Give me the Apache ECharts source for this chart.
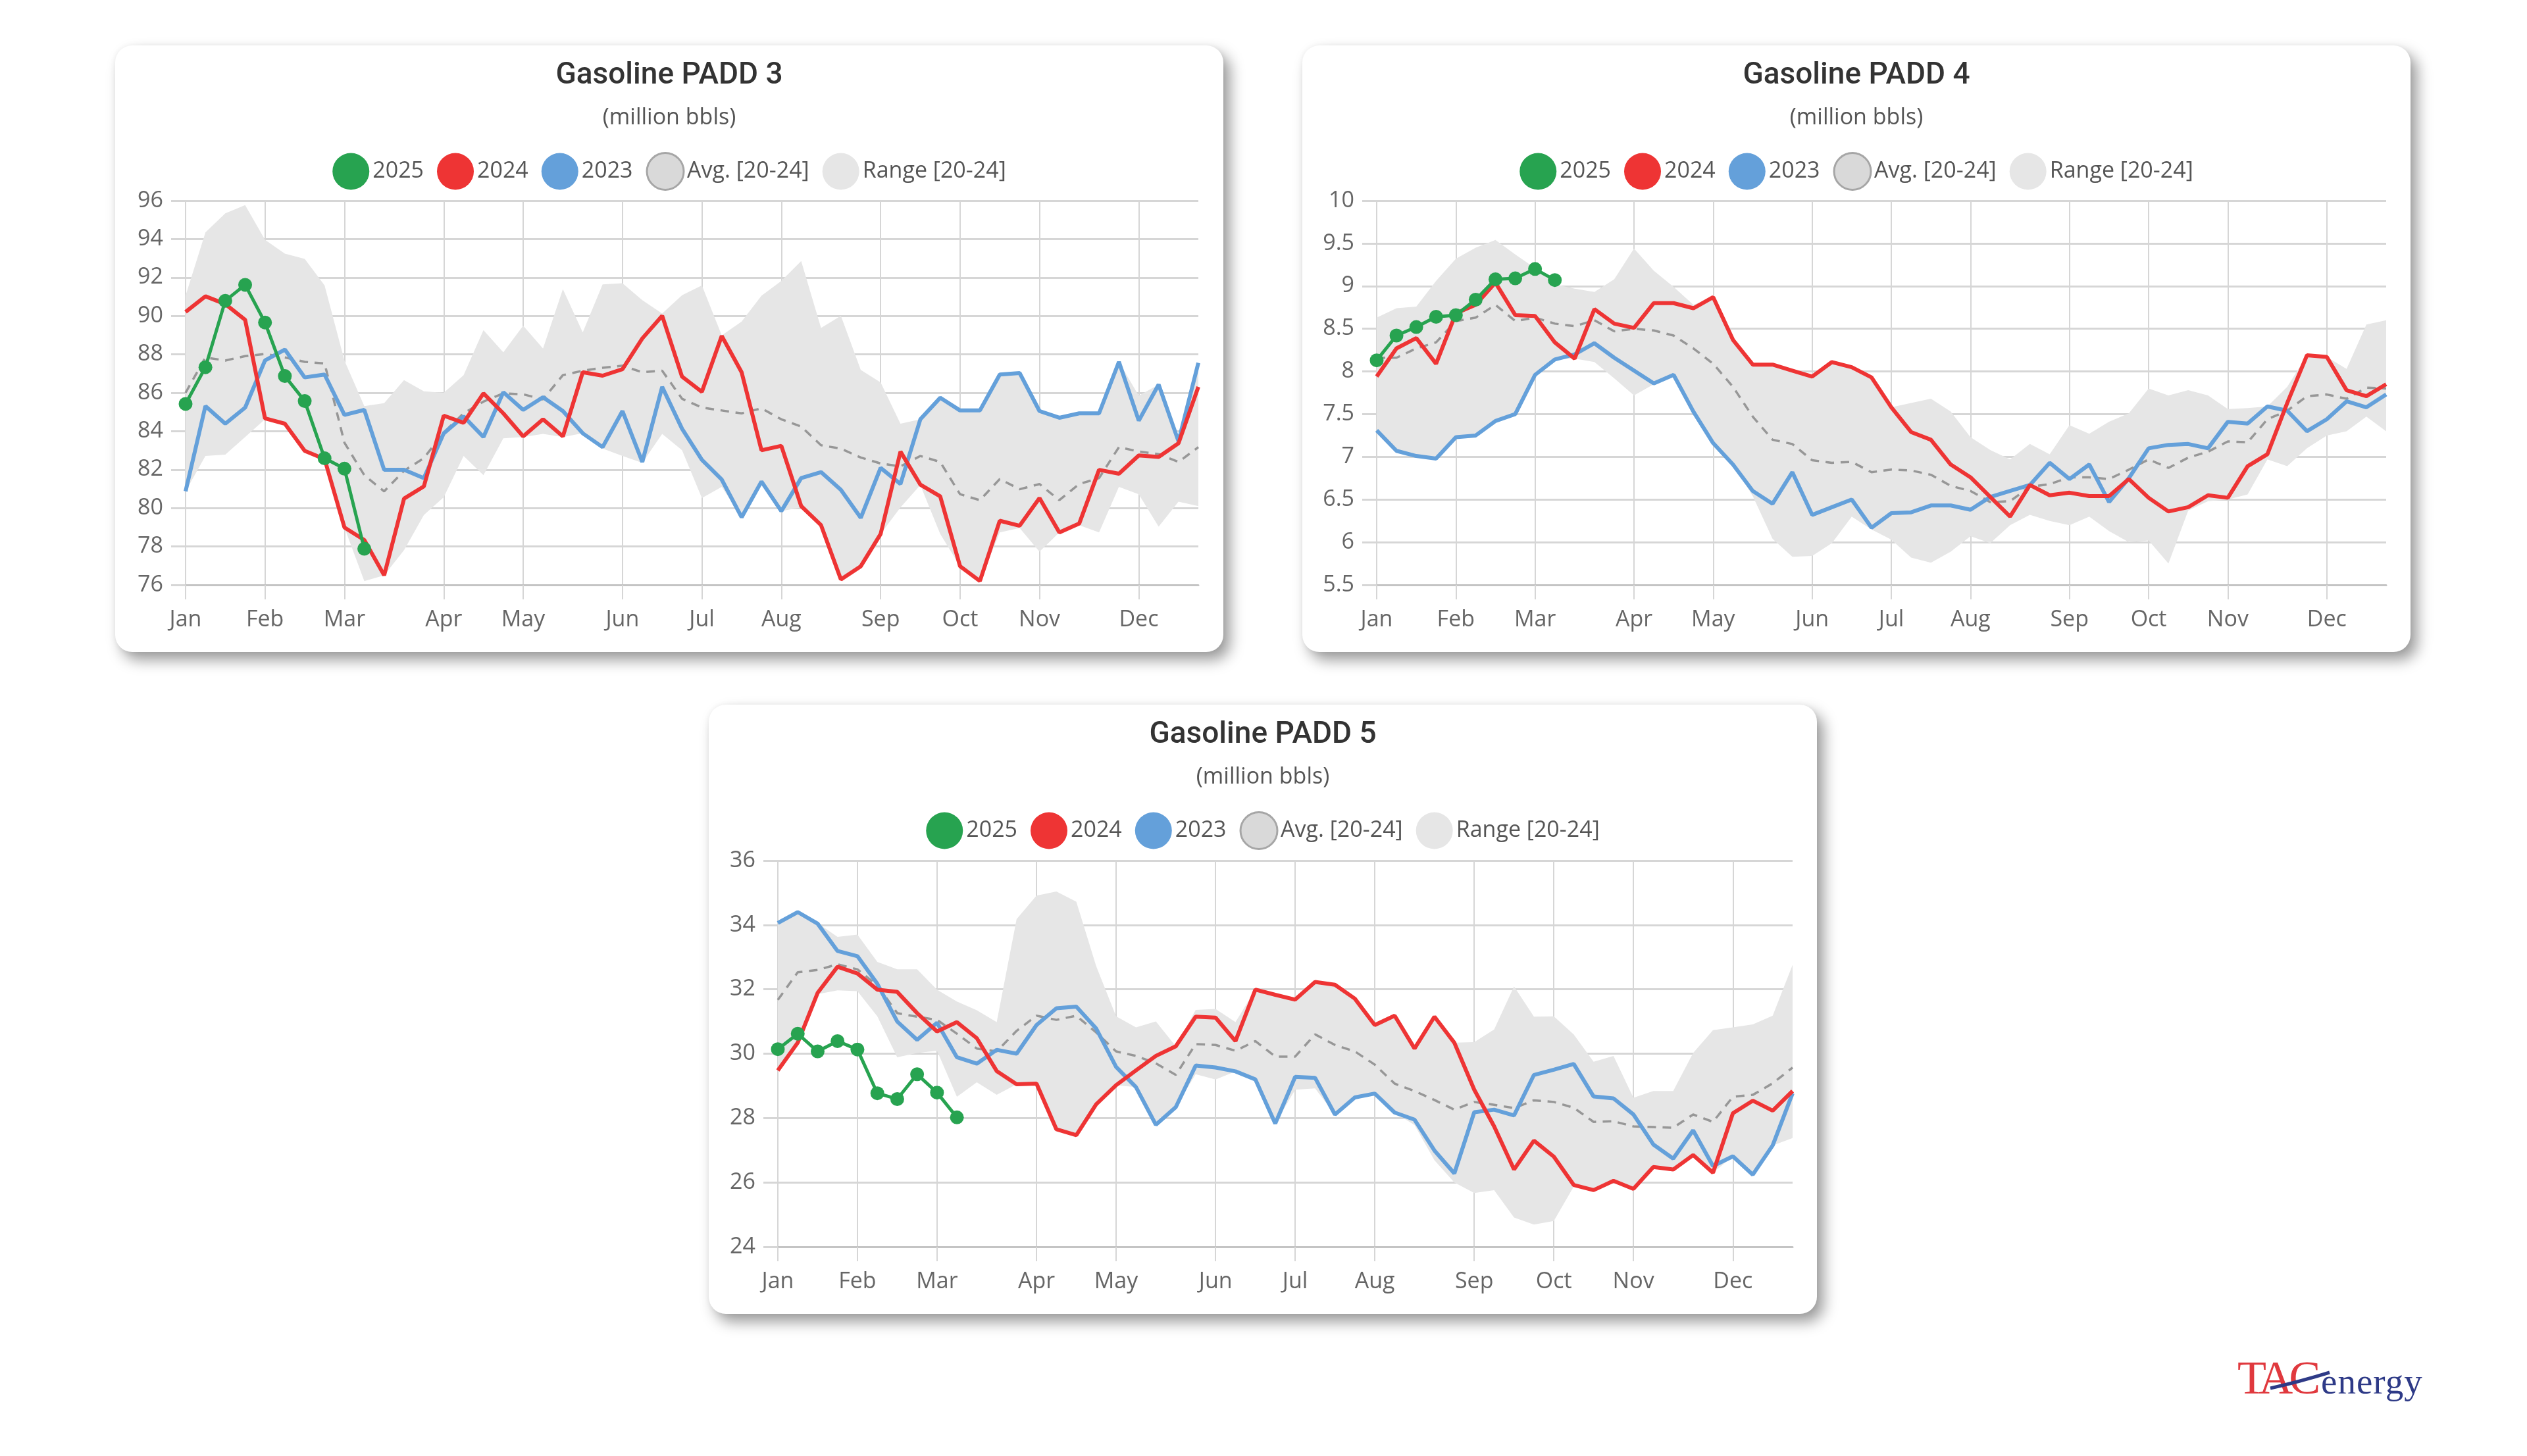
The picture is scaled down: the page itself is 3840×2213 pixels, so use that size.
<!DOCTYPE html>
<html>
<head>
<meta charset="utf-8">
<script src="https://cdn.jsdelivr.net/npm/echarts@6/dist/echarts.min.js"></script>
<style>
html,body{margin:0;padding:0;background:#fff;width:3840px;height:2213px;overflow:hidden;}
.card{position:absolute;background:#fff;border-radius:26px;box-shadow:10px 12px 22px rgba(0,0,0,0.40),0 0 8px rgba(0,0,0,0.05);}
.chart{position:absolute;left:0;top:0;width:100%;height:100%;}
#logo{position:absolute;left:3400px;top:2044px;width:320px;height:100px;font-family:"Liberation Serif",serif;white-space:nowrap;}
#logo .tac{color:#e0393e;font-size:72px;letter-spacing:-6px;position:absolute;left:0;top:0;line-height:100px;}
#logo .en{color:#2e3a87;font-size:55px;letter-spacing:1px;position:absolute;left:127px;top:6px;line-height:100px;}
#logo svg{position:absolute;left:0;top:0;}
</style>
</head>
<body>
<div class="card" style="left:175px;top:69px;width:1684px;height:922px"><div class="chart" id="ch1"></div></div>
<div class="card" style="left:1979px;top:69px;width:1684px;height:922px"><div class="chart" id="ch2"></div></div>
<div class="card" style="left:1077px;top:1071px;width:1684px;height:926px"><div class="chart" id="ch3"></div></div>
<div id="logo"><span class="tac">TAC</span><span class="en">energy</span>
<svg width="320" height="100"><path d="M50 66 Q95 56 140 42" stroke="#2e3a87" stroke-width="5" fill="none"/></svg></div>
<script>
// ---- categories (52 weekly points) ----
const weeks = ['W01','W02','W03','W04','W05','W06','W07','W08','W09','W10','W11','W12','W13',
 'W14','W15','W16','W17','W18','W19','W20','W21','W22','W23','W24','W25','W26',
 'W27','W28','W29','W30','W31','W32','W33','W34','W35','W36','W37','W38','W39',
 'W40','W41','W42','W43','W44','W45','W46','W47','W48','W49','W50','W51','W52'];
const monthNames = ['Jan','Feb','Mar','Apr','May','Jun','Jul','Aug','Sep','Oct','Nov','Dec'];
const monthWeeks = [0,4,8,13,17,22,26,30,35,39,43,48];

// ---- Gasoline PADD 3 ----
const p3_2025 = [85.42,87.33,90.79,91.62,89.66,86.87,85.57,82.59,82.05,77.88];
const p3_2024 = [90.21,91.02,90.62,89.80,84.67,84.39,82.98,82.55,78.99,78.34,76.50,80.49,81.13,84.81,84.44,85.97,84.93,83.73,84.62,83.73,87.07,86.89,87.23,88.83,90.01,86.84,86.05,88.96,87.07,83.01,83.24,80.10,79.11,76.28,76.97,78.65,82.94,81.22,80.61,76.97,76.20,79.34,79.08,80.52,78.73,79.19,81.99,81.79,82.74,82.66,83.37,86.31];
const p3_2023 = [80.87,85.31,84.39,85.23,87.68,88.25,86.80,86.95,84.85,85.11,81.99,81.99,81.56,83.89,84.77,83.70,86.03,85.11,85.77,85.05,83.89,83.17,85.05,82.40,86.31,84.13,82.51,81.48,79.52,81.38,79.84,81.56,81.87,80.95,79.49,82.09,81.25,84.62,85.74,85.08,85.08,86.95,87.03,85.05,84.70,84.93,84.93,87.61,84.55,86.43,83.47,87.56];
const p3_avg = [86.00,87.84,87.68,87.91,88.02,87.84,87.61,87.53,83.40,81.71,80.87,81.94,82.60,83.93,84.93,85.54,85.97,85.92,85.66,86.92,87.15,87.30,87.41,87.07,87.15,85.69,85.23,85.08,84.93,85.19,84.62,84.24,83.27,83.09,82.63,82.32,82.17,82.71,82.40,80.72,80.41,81.51,80.98,81.25,80.41,81.25,81.56,83.17,82.94,82.81,82.40,83.17];
const p3_max = [91.05,94.35,95.34,95.77,93.96,93.24,92.97,91.59,87.68,85.31,85.46,86.66,86.08,86.00,86.92,89.26,88.11,89.49,88.30,91.39,89.14,91.64,91.70,90.82,90.13,91.08,91.59,88.99,89.71,91.05,91.82,92.86,89.37,90.01,87.19,86.54,84.39,84.62,85.74,85.08,85.08,86.95,87.03,85.05,84.70,84.93,84.93,87.61,85.85,86.43,83.70,87.56];
const p3_min = [80.87,82.71,82.78,83.70,84.62,84.39,82.98,82.55,78.99,76.20,76.50,77.81,79.64,80.56,82.71,81.71,83.63,83.70,83.86,83.70,83.89,83.10,82.71,82.35,83.86,83.01,80.52,81.10,79.52,81.38,79.84,80.03,79.11,76.28,76.97,78.65,80.03,81.20,78.65,76.97,76.20,78.73,78.96,77.73,78.73,79.11,78.73,81.10,80.72,79.03,80.33,80.10];

// ---- Gasoline PADD 4 ----
const p4_2025 = [8.13,8.42,8.52,8.64,8.66,8.84,9.08,9.09,9.20,9.07];
const p4_2024 = [7.94,8.27,8.39,8.09,8.68,8.78,9.04,8.66,8.65,8.34,8.15,8.73,8.56,8.51,8.80,8.80,8.74,8.87,8.37,8.08,8.08,8.01,7.94,8.11,8.05,7.93,7.58,7.29,7.20,6.91,6.76,6.53,6.30,6.67,6.55,6.58,6.54,6.54,6.74,6.52,6.36,6.41,6.55,6.52,6.89,7.03,7.63,8.19,8.17,7.78,7.71,7.85];
const p4_2023 = [7.31,7.07,7.01,6.98,7.23,7.25,7.42,7.50,7.96,8.14,8.20,8.33,8.16,8.01,7.86,7.96,7.53,7.16,6.91,6.60,6.45,6.82,6.32,6.41,6.50,6.17,6.34,6.35,6.43,6.43,6.38,6.53,6.60,6.67,6.93,6.74,6.91,6.47,6.75,7.10,7.14,7.15,7.10,7.41,7.39,7.59,7.54,7.30,7.44,7.65,7.58,7.73];
const p4_avg = [8.16,8.16,8.27,8.34,8.59,8.63,8.78,8.59,8.63,8.56,8.53,8.60,8.47,8.50,8.48,8.42,8.27,8.09,7.82,7.47,7.20,7.15,6.96,6.93,6.94,6.82,6.85,6.84,6.79,6.66,6.60,6.47,6.48,6.65,6.68,6.76,6.76,6.74,6.85,6.97,6.87,6.99,7.06,7.18,7.17,7.44,7.54,7.71,7.73,7.68,7.81,7.80];
const p4_max = [8.63,8.74,8.76,9.06,9.32,9.45,9.54,9.37,9.21,9.02,8.97,8.93,9.08,9.44,9.18,8.99,8.78,8.87,8.37,8.08,8.08,8.01,7.94,8.11,8.05,7.93,7.58,7.63,7.68,7.53,7.23,7.08,6.97,7.15,7.03,7.37,7.27,7.41,7.51,7.80,7.72,7.78,7.72,7.56,7.57,7.59,7.82,8.19,8.17,8.03,8.55,8.60];
const p4_min = [7.31,7.07,7.01,6.98,7.23,7.25,7.42,7.50,7.96,8.14,8.15,8.11,7.92,7.72,7.85,7.96,7.53,7.16,6.91,6.54,6.04,5.83,5.84,5.99,6.30,6.15,6.03,5.82,5.76,5.89,6.07,5.99,6.20,6.32,6.25,6.20,6.30,6.13,6.00,6.02,5.75,6.37,6.48,6.50,6.56,6.97,6.89,7.10,7.25,7.30,7.47,7.30];

// ---- Gasoline PADD 5 ----
const p5_2025 = [30.14,30.62,30.07,30.39,30.13,28.77,28.59,29.36,28.79,28.02];
const p5_2024 = [29.48,30.34,31.89,32.70,32.49,31.99,31.92,31.26,30.69,30.98,30.48,29.46,29.05,29.07,27.65,27.47,28.43,29.02,29.48,29.93,30.23,31.15,31.12,30.39,31.99,31.83,31.68,32.23,32.14,31.71,30.89,31.18,30.16,31.15,30.34,28.88,27.74,26.40,27.30,26.80,25.92,25.76,26.05,25.80,26.48,26.40,26.85,26.30,28.15,28.54,28.23,28.84];
const p5_2023 = [34.06,34.40,34.04,33.19,33.03,32.17,31.00,30.43,30.96,29.89,29.69,30.12,30.00,30.89,31.41,31.46,30.78,29.59,28.96,27.79,28.34,29.63,29.57,29.45,29.20,27.83,29.28,29.25,28.11,28.64,28.76,28.17,27.95,26.99,26.28,28.18,28.26,28.08,29.34,29.50,29.68,28.67,28.61,28.11,27.18,26.74,27.62,26.51,26.81,26.24,27.15,28.77];
const p5_avg = [31.67,32.53,32.60,32.78,32.62,32.12,31.26,31.15,31.05,30.62,30.16,30.07,30.71,31.18,31.05,31.18,30.66,30.07,29.93,29.70,29.34,30.30,30.27,30.09,30.39,29.91,29.91,30.60,30.27,30.07,29.66,29.07,28.84,28.56,28.26,28.50,28.41,28.31,28.55,28.50,28.32,27.88,27.90,27.74,27.72,27.70,28.11,27.88,28.66,28.72,29.08,29.57];
const p5_max = [34.08,34.42,34.06,33.63,33.70,32.85,32.62,32.62,31.99,31.62,31.35,30.98,34.18,34.91,35.04,34.72,32.72,31.16,30.82,31.00,30.23,31.36,31.39,30.98,31.99,31.83,31.68,32.23,32.14,31.71,30.89,31.18,30.16,31.15,30.34,30.36,30.75,32.09,31.15,31.16,30.60,29.75,29.93,28.63,28.84,28.84,30.02,30.73,30.82,30.91,31.18,32.76];
const p5_min = [29.48,30.34,31.85,31.97,31.94,31.16,29.89,30.02,30.09,28.66,29.11,28.72,29.05,29.07,27.65,27.47,28.43,29.02,28.96,27.79,28.34,29.36,29.20,29.45,29.20,27.83,28.88,28.92,28.11,28.64,28.76,28.17,27.78,26.69,26.00,25.67,25.76,24.91,24.69,24.80,25.87,25.76,26.05,25.80,26.48,26.40,26.85,26.30,26.81,26.24,27.15,27.38];

const C25 = '#27a350', C24 = '#ee3434', C23 = '#64a0da', CAVG = '#979797', CRANGE = '#e6e6e6';
const LBL = '#666666', GRID = '#d6d6d6';
const isMonth = (i) => monthWeeks.indexOf(i) >= 0;

function makeOption(title, d, yMin, yMax, yStep, grid) {
  return {
    animation: false,
    backgroundColor: 'transparent',
    title: {
      text: title, subtext: '(million bbls)', left: 'center', top: 18, itemGap: 24,
      textStyle: {fontFamily: 'Roboto', fontWeight: 500, fontSize: 46, color: '#333'},
      subtextStyle: {fontFamily: 'Open Sans', fontSize: 34, color: '#555'}
    },
    legend: {
      top: 157, left: 'center', icon: 'circle', itemWidth: 56, itemHeight: 56, itemGap: 20,
      textStyle: {fontFamily: 'Open Sans', fontSize: 34, color: '#555'},
      itemStyle: {borderWidth: 0},
      data: [
        {name: '2025', itemStyle: {color: C25, borderWidth: 0}},
        {name: '2024', itemStyle: {color: C24, borderWidth: 0}},
        {name: '2023', itemStyle: {color: C23, borderWidth: 0}},
        {name: 'Avg. [20-24]', itemStyle: {color: '#d9d9d9', borderColor: '#a6a6a6', borderWidth: 3}},
        {name: 'Range [20-24]', itemStyle: {color: CRANGE, borderWidth: 0}}
      ]
    },
    grid: grid,
    xAxis: {
      type: 'category', data: weeks, boundaryGap: false,
      axisLine: {show: true, lineStyle: {color: '#c4c4c4', width: 3}},
      axisTick: {show: true, interval: isMonth, length: 22, lineStyle: {color: GRID, width: 2}},
      splitLine: {show: true, interval: isMonth, lineStyle: {color: GRID, width: 2}},
      axisLabel: {interval: isMonth, formatter: (v, i) => monthNames[monthWeeks.indexOf(i)],
        fontFamily: 'Open Sans', fontSize: 34, color: LBL, margin: 36}
    },
    yAxis: {
      type: 'value', min: yMin, max: yMax, interval: yStep,
      axisLine: {show: false},
      axisTick: {show: true, length: 22, lineStyle: {color: GRID, width: 3}},
      splitLine: {show: true, lineStyle: {color: GRID, width: 3}},
      axisLabel: {fontFamily: 'Open Sans', fontSize: 34, color: LBL, margin: 34}
    },
    series: [
      {name: 'rangeBase', type: 'line', data: d.min, stack: 'range', symbol: 'none',
        lineStyle: {opacity: 0}, itemStyle: {color: CRANGE}, silent: true},
      {name: 'Range [20-24]', type: 'line', stack: 'range', symbol: 'none',
        data: d.max.map((v, i) => +(v - d.min[i]).toFixed(3)),
        lineStyle: {opacity: 0}, itemStyle: {color: CRANGE}, areaStyle: {color: CRANGE, opacity: 1}},
      {name: 'Avg. [20-24]', type: 'line', data: d.avg, symbol: 'none',
        lineStyle: {color: CAVG, width: 3.5, type: [13, 10]}, itemStyle: {color: CAVG}},
      {name: '2023', type: 'line', data: d.y2023, symbol: 'none',
        lineStyle: {color: C23, width: 6}, itemStyle: {color: C23}},
      {name: '2024', type: 'line', data: d.y2024, symbol: 'none',
        lineStyle: {color: C24, width: 6}, itemStyle: {color: C24}},
      {name: '2025', type: 'line', data: d.y2025, symbol: 'circle', symbolSize: 21,
        showSymbol: true, showAllSymbol: true,
        lineStyle: {color: C25, width: 5}, itemStyle: {color: C25}}
    ]
  };
}

const c1 = echarts.init(document.getElementById('ch1'));
c1.setOption(makeOption('Gasoline PADD 3',
  {y2025: p3_2025, y2024: p3_2024, y2023: p3_2023, avg: p3_avg, max: p3_max, min: p3_min},
  76, 96, 2, {left: 107, right: 38, top: 236, bottom: 102}));

const c2 = echarts.init(document.getElementById('ch2'));
c2.setOption(makeOption('Gasoline PADD 4',
  {y2025: p4_2025, y2024: p4_2024, y2023: p4_2023, avg: p4_avg, max: p4_max, min: p4_min},
  5.5, 10, 0.5, {left: 113, right: 37, top: 236, bottom: 102}));

const c3 = echarts.init(document.getElementById('ch3'));
c3.setOption(makeOption('Gasoline PADD 5',
  {y2025: p5_2025, y2024: p5_2024, y2023: p5_2023, avg: p5_avg, max: p5_max, min: p5_min},
  24, 36, 2, {left: 105, right: 37, top: 237, bottom: 102}));
</script>
</body>
</html>
